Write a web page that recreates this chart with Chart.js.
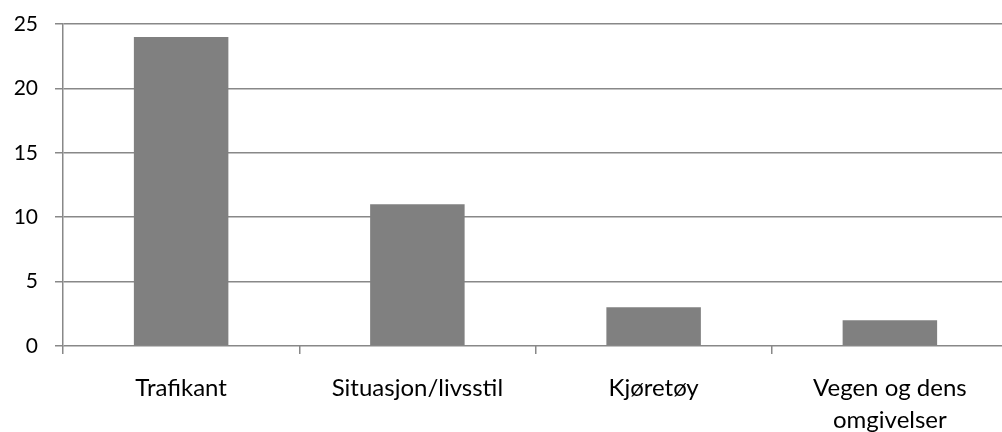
<!DOCTYPE html>
<html>
<head>
<meta charset="utf-8">
<script src="https://cdn.jsdelivr.net/npm/chart.js@4"></script>
<style>
  html, body { margin: 0; padding: 0; background: #fff; overflow: hidden; }
  #wrap { width: 1002px; height: 432px; overflow: hidden; }
</style>
</head>
<body>
<div id="wrap"><canvas id="barChart" width="1009" height="432"></canvas></div>
<script>
const categories = ['Trafikant', 'Situasjon/livsstil', 'Kjøretøy', ['Vegen og dens', 'omgivelser']];
const counts = [24, 11, 3, 2];
const yTicks = [0, 5, 10, 15, 20, 25];

const axisGrey = '#888888';

const ctx = document.getElementById('barChart').getContext('2d');
const barChart = new Chart(ctx, {
  type: 'bar',
  data: {
    labels: categories,
    datasets: [{
      data: counts,
      backgroundColor: '#808080',
      borderWidth: 0,
      barPercentage: 0.4,
      categoryPercentage: 1
    }]
  },
  options: {
    responsive: false,
    animation: false,
    layout: { padding: { top: 24, right: 1, left: 0, bottom: 0 } },
    plugins: {
      legend: { display: false },
      tooltip: { enabled: false }
    },
    scales: {
      x: {
        offset: true,
        grid: {
          offset: true,
          drawOnChartArea: false,
          drawTicks: true,
          tickLength: 8,
          color: axisGrey,
          lineWidth: 1.5
        },
        border: { display: false },
        ticks: {
          color: '#000',
          padding: 18,
          maxRotation: 0,
          autoSkip: false,
          font: { family: 'Lato', size: 24, lineHeight: 1.35 }
        },
        afterFit: scale => {
          scale.height = 86;
          scale.paddingLeft = 0;
          scale.paddingRight = 0;
        }
      },
      y: {
        min: 0,
        max: 25,
        afterBuildTicks: scale => { scale.ticks = yTicks.map(v => ({ value: v })); },
        grid: {
          color: axisGrey,
          lineWidth: 1.5,
          tickLength: 8
        },
        border: { display: true, color: axisGrey, width: 1.5 },
        ticks: {
          color: '#000',
          padding: 17,
          font: { family: 'Lato', size: 21 }
        },
        afterFit: scale => {
          scale.width = 63;
          scale.paddingTop = 0;
          scale.paddingBottom = 0;
        }
      }
    }
  }
});
</script>
</body>
</html>
